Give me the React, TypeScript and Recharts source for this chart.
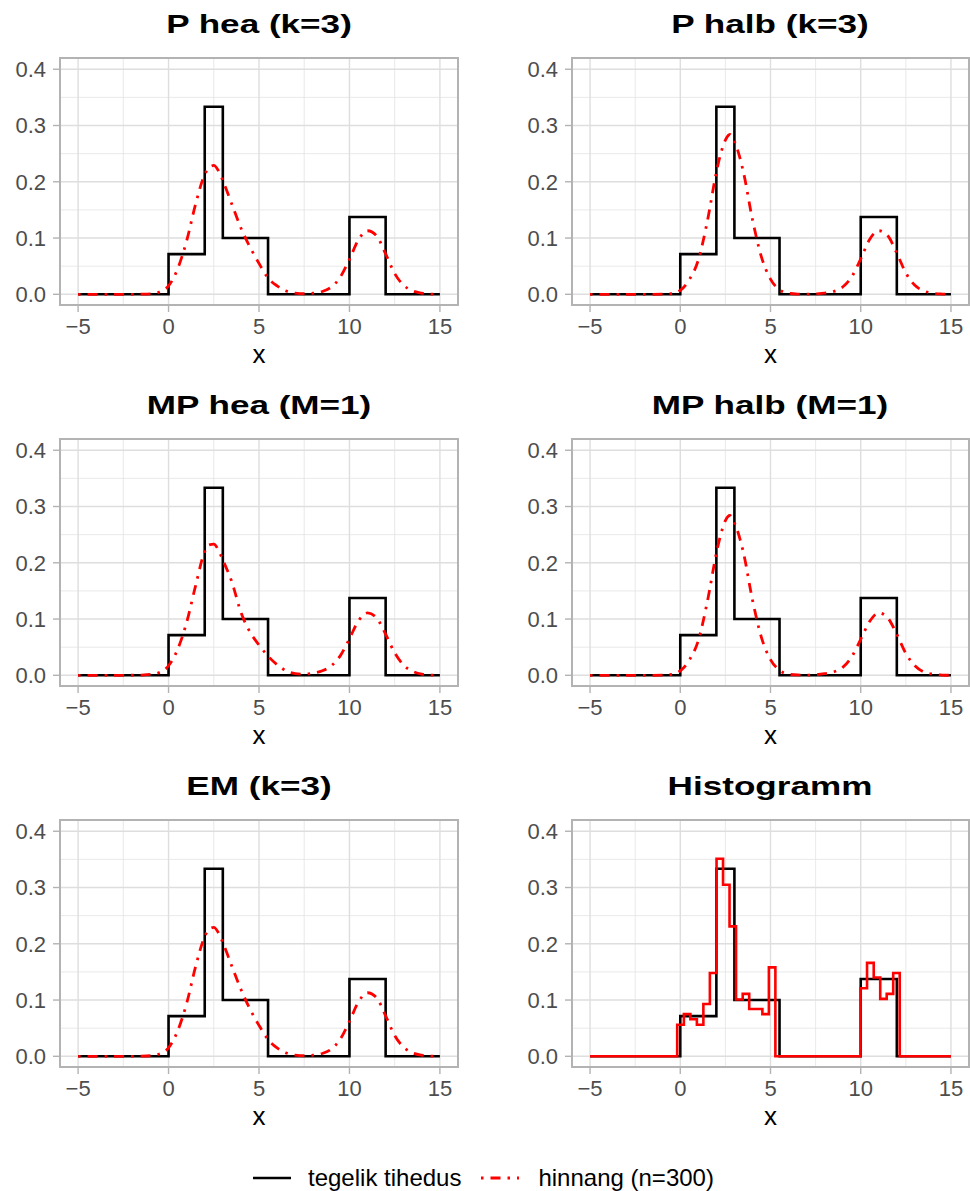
import React from "react";
import {
  LineChart,
  Line,
  XAxis,
  YAxis,
  CartesianGrid,
  ReferenceArea,
} from "recharts";

// axes
const xTicks = [-5, 0, 5, 10, 15];
const xMinor = [-2.5, 2.5, 7.5, 12.5];
const yTicks = [0, 0.1, 0.2, 0.3, 0.4];
const yMinor = [0.05, 0.15, 0.25, 0.35];

// true piecewise-constant density (step starts at each edge)
const trueEdges = [-5, 0, 2, 3, 5.5, 10, 12, 15];
const trueDensity = [0, 0.0714, 0.3333, 0.1, 0, 0.1375, 0, 0];

// x positions where the estimated curves were read off
const curveX = [
  -5, -4, -3, -2, -1.5, -1, -0.5, 0, 0.5, 1, 1.5, 2, 2.25, 2.5, 2.75, 3, 3.5, 4,
  4.5, 5, 5.5, 6, 6.5, 7, 7.5, 8, 8.5, 9, 9.5, 10, 10.5, 11, 11.5, 12, 12.5, 13,
  13.5, 14, 14.5, 15,
];

const pHea = [
  0, 0, 0, 0, 0.0002, 0.0008, 0.004, 0.015, 0.045, 0.095, 0.161, 0.213, 0.225,
  0.229, 0.22, 0.202, 0.16, 0.118, 0.084, 0.055, 0.029, 0.015, 0.006, 0.002,
  0.001, 0.002, 0.005, 0.013, 0.031, 0.062, 0.097, 0.113, 0.104, 0.072, 0.037,
  0.016, 0.006, 0.002, 0.0005, 0,
];

const pHalb = [
  0, 0, 0, 0, 0, 0.0002, 0.001, 0.007, 0.026, 0.061, 0.13, 0.217, 0.251, 0.274,
  0.284, 0.272, 0.217, 0.133, 0.066, 0.027, 0.008, 0.002, 0.0005, 0.0002,
  0.0008, 0.002, 0.005, 0.013, 0.031, 0.063, 0.098, 0.113, 0.104, 0.073, 0.038,
  0.016, 0.006, 0.002, 0.0005, 0,
];

const mpHea = [
  0, 0, 0, 0.0001, 0.0004, 0.0015, 0.005, 0.017, 0.046, 0.094, 0.16, 0.22,
  0.232, 0.233, 0.223, 0.205, 0.166, 0.112, 0.077, 0.054, 0.034, 0.019, 0.008,
  0.003, 0.002, 0.004, 0.008, 0.017, 0.035, 0.065, 0.097, 0.111, 0.102, 0.073,
  0.04, 0.018, 0.007, 0.002, 0.0005, 0,
];

const mpHalb = [
  0, 0, 0, 0, 0, 0.0002, 0.0015, 0.008, 0.027, 0.062, 0.131, 0.217, 0.251,
  0.275, 0.284, 0.271, 0.218, 0.134, 0.067, 0.028, 0.009, 0.002, 0.0006, 0.0003,
  0.001, 0.003, 0.006, 0.014, 0.033, 0.064, 0.096, 0.111, 0.102, 0.073, 0.039,
  0.017, 0.006, 0.002, 0.0005, 0,
];

const emK3 = [
  0, 0, 0, 0, 0.0002, 0.001, 0.004, 0.015, 0.045, 0.094, 0.16, 0.213, 0.226,
  0.229, 0.22, 0.202, 0.16, 0.119, 0.084, 0.055, 0.03, 0.015, 0.006, 0.002,
  0.001, 0.002, 0.005, 0.013, 0.031, 0.062, 0.097, 0.113, 0.104, 0.072, 0.037,
  0.016, 0.006, 0.002, 0.0005, 0,
];

// histogram (n=300), left edges of steps and their heights
const histEdges = [
  -5, -0.17, 0.2, 0.56, 0.92, 1.28, 1.64, 2.01, 2.37, 2.73, 3.09, 3.46, 3.82,
  4.18, 4.55, 4.91, 5.27, 9.99, 10.35, 10.72, 11.08, 11.44, 11.8, 12.16, 15,
];
const histHeights = [
  0, 0.056, 0.075, 0.066, 0.056, 0.093, 0.148, 0.351, 0.305, 0.231, 0.101,
  0.111, 0.084, 0.084, 0.075, 0.158, 0, 0.121, 0.166, 0.14, 0.102, 0.111, 0.148,
  0, 0,
];

type Pt = { x: number; y: number };
const toPoints = (xs: number[], ys: number[]): Pt[] =>
  xs.map((x, i) => ({ x, y: ys[i] }));

const truePts = toPoints(trueEdges, trueDensity);

const FONT = "'Liberation Sans', Arial, Helvetica, sans-serif";
const RED = "#FF0000";
const DOTDASH = "2.5 7 10 7";
const Y_AXIS_W = 60;
const X_AXIS_H = 74;
const MARGIN_TOP = 5;
const PLOT_H = 247;

const fmtX = (v: number) => (v < 0 ? `\u2212${Math.abs(v)}` : String(v));

interface PanelProps {
  title: string;
  plotLeft: number;
  plotTop: number;
  plotWidth: number;
  curve?: Pt[];
  hist?: Pt[];
}

function Panel({ title, plotLeft, plotTop, plotWidth, curve, hist }: PanelProps) {
  const rightMargin = 1;
  return (
    <>
      <div
        style={{
          position: "absolute",
          left: plotLeft + plotWidth / 2 - 250,
          top: plotTop - 47,
          width: 500,
          textAlign: "center",
          fontSize: 26,
          lineHeight: "26px",
          fontWeight: "bold",
          color: "#000",
          transform: "scaleX(1.35)",
          transformOrigin: "center",
          whiteSpace: "nowrap",
        }}
      >
        {title}
      </div>
      <div
        style={{
          position: "absolute",
          left: plotLeft - Y_AXIS_W,
          top: plotTop - MARGIN_TOP,
        }}
      >
        <LineChart
          width={Y_AXIS_W + plotWidth + rightMargin}
          height={MARGIN_TOP + PLOT_H + X_AXIS_H}
          margin={{ top: MARGIN_TOP, right: rightMargin, bottom: 0, left: 0 }}
        >
          <CartesianGrid
            verticalValues={xMinor}
            horizontalValues={yMinor}
            stroke="#E3E3E3"
            strokeWidth={0.8}
          />
          <CartesianGrid
            verticalValues={xTicks}
            horizontalValues={yTicks}
            stroke="#DEDEDE"
            strokeWidth={1.4}
          />
          <XAxis
            dataKey="x"
            type="number"
            domain={[-6, 16]}
            ticks={xTicks}
            allowDataOverflow
            height={X_AXIS_H}
            axisLine={false}
            tickLine={{ stroke: "#B3B3B3", strokeWidth: 1.4 }}
            tickSize={7}
            tickMargin={6}
            tick={{ fontSize: 22, fill: "#4D4D4D" }}
            tickFormatter={fmtX}
            label={{
              value: "x",
              position: "insideBottom",
              offset: 16,
              fill: "#000",
              fontSize: 26,
            }}
          />
          <YAxis
            type="number"
            domain={[-0.019, 0.42]}
            ticks={yTicks}
            allowDataOverflow
            width={Y_AXIS_W}
            axisLine={false}
            tickLine={{ stroke: "#B3B3B3", strokeWidth: 1.4 }}
            tickSize={7}
            tickMargin={7}
            tick={{ fontSize: 22, fill: "#4D4D4D" }}
            tickFormatter={(v: number) => v.toFixed(1)}
          />
          <Line
            data={truePts}
            dataKey="y"
            type="stepAfter"
            stroke="#000000"
            strokeWidth={2.6}
            dot={false}
            activeDot={false}
            isAnimationActive={false}
          />
          {curve && (
            <Line
              data={curve}
              dataKey="y"
              type="monotone"
              stroke={RED}
              strokeWidth={2.8}
              strokeDasharray={DOTDASH}
              dot={false}
              activeDot={false}
              isAnimationActive={false}
            />
          )}
          {hist && (
            <Line
              data={hist}
              dataKey="y"
              type="stepAfter"
              stroke={RED}
              strokeWidth={2.6}
              dot={false}
              activeDot={false}
              isAnimationActive={false}
            />
          )}
          <ReferenceArea
            x1={-6}
            x2={16}
            y1={-0.019}
            y2={0.42}
            fill="none"
            stroke="#B3B3B3"
            strokeWidth={2}
            ifOverflow="visible"
          />
        </LineChart>
      </div>
    </>
  );
}

function Legend() {
  return (
    <div
      style={{
        position: "absolute",
        left: 253,
        top: 1165,
        height: 26,
        display: "flex",
        alignItems: "center",
        fontSize: 24,
        color: "#000",
        whiteSpace: "nowrap",
      }}
    >
      <svg width={38} height={26}>
        <line x1={0} y1={13} x2={38} y2={13} stroke="#000" strokeWidth={2.6} />
      </svg>
      <span style={{ marginLeft: 17 }}>tegelik tihedus</span>
      <svg width={38} height={26} style={{ marginLeft: 20 }}>
        <line
          x1={0}
          y1={13}
          x2={38}
          y2={13}
          stroke={RED}
          strokeWidth={2.8}
          strokeDasharray={DOTDASH}
        />
      </svg>
      <span style={{ marginLeft: 19 }}>hinnang (n=300)</span>
    </div>
  );
}

const colLeft = [60, 571.5];
const colWidth = [398, 397];
const rowTop = [58.3, 439, 820];

export default function App() {
  return (
    <div
      style={{
        position: "absolute",
        left: 0,
        top: 0,
        width: 970,
        height: 1191,
        background: "#fff",
        fontFamily: FONT,
        overflow: "hidden",
      }}
    >
      <Panel title="P hea (k=3)" plotLeft={colLeft[0]} plotTop={rowTop[0]} plotWidth={colWidth[0]} curve={toPoints(curveX, pHea)} />
      <Panel title="P halb (k=3)" plotLeft={colLeft[1]} plotTop={rowTop[0]} plotWidth={colWidth[1]} curve={toPoints(curveX, pHalb)} />
      <Panel title="MP hea (M=1)" plotLeft={colLeft[0]} plotTop={rowTop[1]} plotWidth={colWidth[0]} curve={toPoints(curveX, mpHea)} />
      <Panel title="MP halb (M=1)" plotLeft={colLeft[1]} plotTop={rowTop[1]} plotWidth={colWidth[1]} curve={toPoints(curveX, mpHalb)} />
      <Panel title="EM (k=3)" plotLeft={colLeft[0]} plotTop={rowTop[2]} plotWidth={colWidth[0]} curve={toPoints(curveX, emK3)} />
      <Panel title="Histogramm" plotLeft={colLeft[1]} plotTop={rowTop[2]} plotWidth={colWidth[1]} hist={toPoints(histEdges, histHeights)} />
      <Legend />
    </div>
  );
}
